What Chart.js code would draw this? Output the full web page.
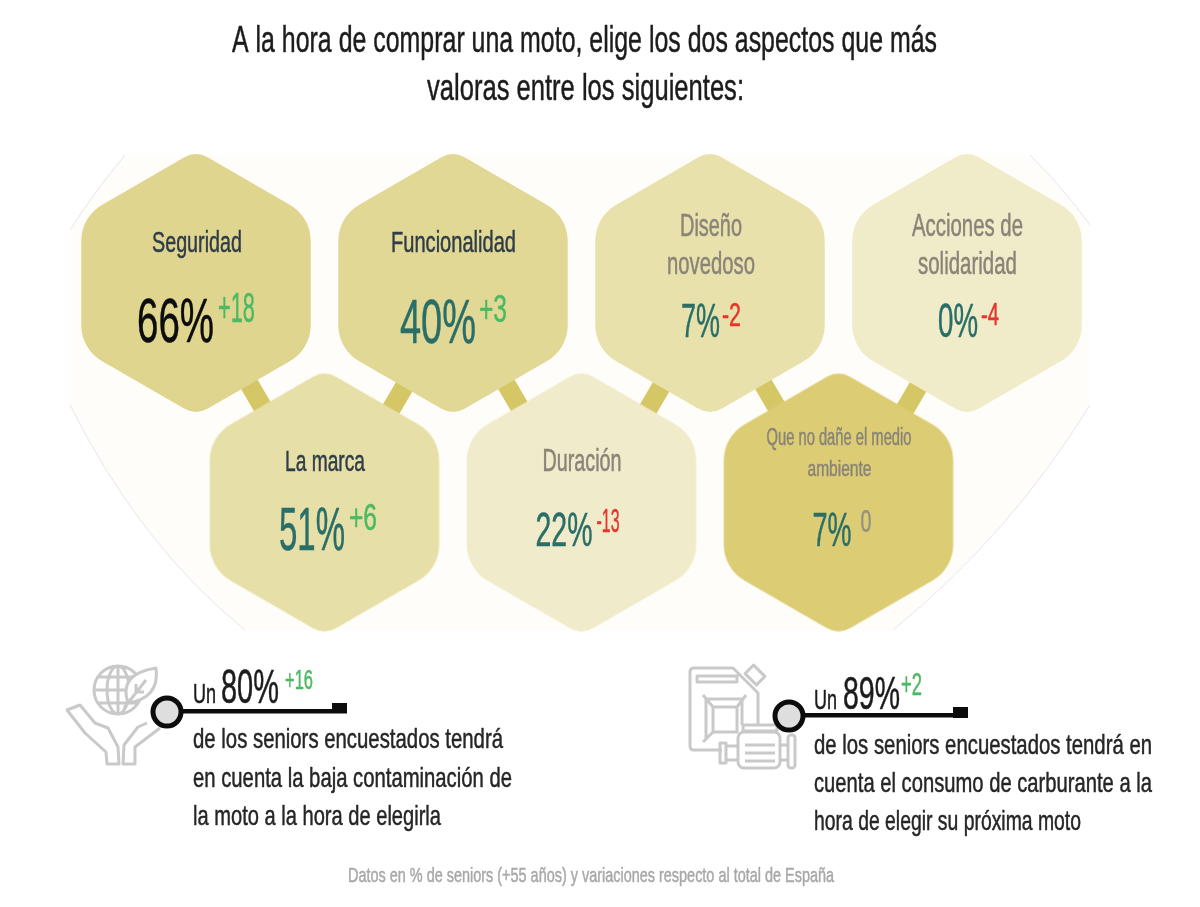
<!DOCTYPE html>
<html lang="es">
<head>
<meta charset="utf-8">
<title>Aspectos más valorados al comprar una moto</title>
<script src="https://cdn.jsdelivr.net/npm/chart.js@4/dist/chart.umd.min.js"></script>
<style>
    html, body { margin: 0; padding: 0; background: #fff; }
    canvas { display: block; }
</style>
</head>
<body>
<canvas id="hexChart" width="1200" height="907"></canvas>
<script>
const titleLines = [
    'A la hora de comprar una moto, elige los dos aspectos que más',
    'valoras entre los siguientes:'
];
const categories = [
    ['Seguridad'], ['Funcionalidad'], ['Diseño', 'novedoso'], ['Acciones de', 'solidaridad'],
    ['La marca'], ['Duración'], ['Que no dañe el medio', 'ambiente']
];
const percentValues = [66, 40, 7, 0, 51, 22, 7];
const changeValues = [18, 3, -2, -4, 6, -13, 0];

// hex grid: half-columns and rows, the links join a top hexagon to a bottom one
const hexCols = [0, 2, 4, 6, 1, 3, 5];
const hexRows = [0, 0, 0, 0, 1, 1, 1];
const linkPairs = [[0, 4], [1, 4], [1, 5], [2, 5], [2, 6], [3, 6]];

const statPercents = [80, 89];
const statChanges = [16, 2];
const footerText = 'Datos en % de seniors (+55 años) y variaciones respecto al total de España';

const FONT = '"Liberation Sans Narrow", "Liberation Sans", sans-serif';
const GREEN = '#4cb963';
const RED = '#e5352d';
const TEAL = '#2a6e68';
const GREY = '#8a8478';
const DARK = '#2f3d48';
const LINK = '#d6c766';

const hexColors = ['#dfd58f', '#e1d895', '#e8e1ac', '#f0ebc9', '#e7dfa8', '#f0ebca', '#dccd75'];
const labelColors = [DARK, DARK, GREY, GREY, DARK, GREY, GREY];
const percentColors = ['#0c0c0c', TEAL, TEAL, TEAL, TEAL, TEAL, TEAL];

// text boxes relative to the hexagon centre: left, right, baseline, height
const labelBoxes = [
    [[-44, 46, -31, 21]],
    [[-62, 63, -31, 21]],
    [[-30, 32, -47, 22], [-43, 45, -9, 22]],
    [[-55, 56, -47, 22], [-49, 50, -9, 22]],
    [[-39.5, 40.5, -32, 21]],
    [[-39, 40, -32, 22]],
    [[-72, 73, -58, 17], [-31, 33, -27, 16]]
];
const percentBoxes = [
    [-59, 18, 59, 45], [-53, 23, 60, 45], [-29, 10, 54, 34], [-29, 11, 54, 34],
    [-45.5, 20.5, 47, 44], [-46, 11, 43, 34], [-26, 13, 43, 34]
];
const changeBoxes = [
    [22, 59, 39, 30], [26, 54, 39, 28], [12, 31, 43, 24], [14, 32, 42, 22],
    [24.5, 52.5, 27, 27], [15, 38, 29, 24], [22, 33, 29, 22]
];

function fitText(ctx, text, left, right, baseline, height, color) {
    ctx.save();
    ctx.font = (height / 0.72) + 'px ' + FONT;
    ctx.textAlign = 'left';
    ctx.textBaseline = 'alphabetic';
    ctx.fillStyle = color;
    ctx.strokeStyle = color;
    ctx.lineWidth = 0.5;
    ctx.lineJoin = 'round';
    const sx = (right - left) / ctx.measureText(text).width;
    ctx.translate(left, baseline);
    ctx.scale(sx, 1);
    ctx.fillText(text, 0, 0);
    ctx.strokeText(text, 0, 0);
    ctx.restore();
}

function formatChange(value) {
    if (value > 0) return '+' + value;
    return String(value);
}

function changeColor(value) {
    if (value > 0) return GREEN;
    if (value < 0) return RED;
    return '#97917f';
}

function makeHexagon(color) {
    const width = 232, height = 268;
    const c = document.createElement('canvas');
    c.width = width;
    c.height = height;
    const g = c.getContext('2d');
    const cx = width / 2, cy = height / 2;
    const R = 132.5;
    const pts = [];
    for (let i = 0; i < 6; i++) {
        const a = -Math.PI / 2 + i * Math.PI / 3;
        pts.push([cx + R * Math.cos(a), cy + R * Math.sin(a)]);
    }
    g.beginPath();
    g.moveTo((pts[5][0] + pts[0][0]) / 2, (pts[5][1] + pts[0][1]) / 2);
    for (let i = 0; i < 6; i++) {
        const p = pts[i], n = pts[(i + 1) % 6];
        // top and bottom corners are tighter than the side ones
        g.arcTo(p[0], p[1], n[0], n[1], i % 3 === 0 ? 24 : 42);
    }
    g.closePath();
    g.fillStyle = color;
    g.fill();
    return c;
}

// the links do not run exactly from centre to centre
function linkPoints() {
    const points = [];
    linkPairs.forEach(pair => {
        const leaning = hexCols[pair[0]] < hexCols[pair[1]];
        const dx = leaning ? -6 / 128.5 : 9 / 128.5;
        const dy = leaning ? 0 : 5 / 219.5;
        pair.forEach(i => points.push({ x: hexCols[i] + dx, y: hexRows[i] + dy }));
        points.push({ x: hexCols[pair[1]], y: null });
    });
    return points;
}

const backdropPlugin = {
    id: 'backdrop',
    beforeDraw(chart) {
        const ctx = chart.ctx;
        ctx.save();
        ctx.beginPath();
        ctx.moveTo(125, 155);
        ctx.quadraticCurveTo(92, 195, 70, 230);
        ctx.lineTo(70, 405);
        ctx.quadraticCurveTo(140, 545, 245, 630);
        ctx.lineTo(893, 630);
        ctx.quadraticCurveTo(1010, 535, 1090, 405);
        ctx.lineTo(1090, 225);
        ctx.quadraticCurveTo(1065, 190, 1030, 155);
        ctx.closePath();
        ctx.fillStyle = '#fffdf9';
        ctx.fill();

        ctx.strokeStyle = '#e4e6ea';
        ctx.lineWidth = 1;
        ctx.beginPath();
        ctx.moveTo(125, 155);
        ctx.quadraticCurveTo(92, 195, 70, 230);
        ctx.moveTo(70, 405);
        ctx.quadraticCurveTo(140, 545, 245, 630);
        ctx.moveTo(893, 630);
        ctx.quadraticCurveTo(1010, 535, 1090, 405);
        ctx.moveTo(1090, 225);
        ctx.quadraticCurveTo(1065, 190, 1030, 155);
        ctx.stroke();
        ctx.restore();
    }
};

function drawGlobeIcon(ctx) {
    ctx.beginPath();
    ctx.arc(118, 690, 24, 0, Math.PI * 2);
    ctx.moveTo(118, 666);
    ctx.lineTo(118, 714);
    ctx.moveTo(129, 690);
    ctx.ellipse(118, 690, 11, 24, 0, 0, Math.PI * 2);
    ctx.moveTo(94, 690);
    ctx.lineTo(142, 690);
    ctx.moveTo(98, 677);
    ctx.lineTo(138, 677);
    ctx.moveTo(98, 703);
    ctx.lineTo(138, 703);
    ctx.stroke();

    ctx.beginPath();
    ctx.moveTo(128, 703);
    ctx.quadraticCurveTo(118, 674, 156, 668);
    ctx.quadraticCurveTo(160, 698, 128, 703);
    ctx.closePath();
    ctx.fillStyle = '#fff';
    ctx.fill();
    ctx.stroke();
    ctx.beginPath();
    ctx.moveTo(124, 708);
    ctx.lineTo(146, 680);
    ctx.moveTo(136, 692);
    ctx.lineTo(136, 684);
    ctx.moveTo(136, 692);
    ctx.lineTo(144, 692);
    ctx.stroke();

    ctx.beginPath();
    ctx.moveTo(67, 710);
    ctx.lineTo(80, 705);
    ctx.lineTo(95, 723);
    ctx.lineTo(108, 728);
    ctx.lineTo(118, 747);
    ctx.lineTo(119, 764);
    ctx.lineTo(107, 764);
    ctx.lineTo(106, 752);
    ctx.lineTo(85, 733);
    ctx.closePath();
    ctx.moveTo(160, 728);
    ctx.lineTo(135, 747);
    ctx.lineTo(135, 764);
    ctx.lineTo(123, 764);
    ctx.lineTo(124, 745);
    ctx.lineTo(138, 727);
    ctx.lineTo(147, 723);
    ctx.stroke();
}

function drawFuelIcon(ctx) {
    ctx.beginPath();
    ctx.moveTo(722, 750);
    ctx.lineTo(694, 750);
    ctx.quadraticCurveTo(690, 750, 690, 746);
    ctx.lineTo(690, 672);
    ctx.quadraticCurveTo(690, 668, 694, 668);
    ctx.lineTo(733, 668);
    ctx.lineTo(758, 693);
    ctx.lineTo(758, 725);
    ctx.rect(697, 676, 40, 6);
    ctx.rect(713, 707, 24, 25);
    ctx.moveTo(713, 707);
    ctx.lineTo(703, 695);
    ctx.moveTo(737, 707);
    ctx.lineTo(746, 695);
    ctx.moveTo(713, 732);
    ctx.lineTo(703, 742);
    ctx.moveTo(706, 699);
    ctx.lineTo(706, 738);
    ctx.moveTo(706, 699);
    ctx.lineTo(744, 699);
    ctx.moveTo(742, 700);
    ctx.lineTo(742, 725);
    ctx.stroke();

    // cap
    ctx.save();
    ctx.translate(755, 675);
    ctx.rotate(Math.PI / 4);
    ctx.strokeRect(-8, -6, 16, 12);
    ctx.restore();

    // engine
    ctx.beginPath();
    ctx.roundRect(738, 732, 42, 36, 6);
    ctx.rect(743, 725, 34, 6);
    ctx.moveTo(745, 745);
    ctx.lineTo(775, 745);
    ctx.moveTo(745, 753);
    ctx.lineTo(775, 753);
    ctx.moveTo(745, 761);
    ctx.lineTo(775, 761);
    ctx.rect(720, 743, 6, 20);
    ctx.rect(726, 746, 12, 14);
    ctx.moveTo(780, 745);
    ctx.lineTo(788, 745);
    ctx.moveTo(780, 760);
    ctx.lineTo(788, 760);
    ctx.roundRect(788, 735, 7, 33, 3);
    ctx.stroke();
}

function drawCallout(ctx, cx, cy, endX, blockTop, blockH) {
    ctx.fillStyle = '#0c0c0c';
    ctx.fillRect(cx, cy - 3, endX - cx, 4.5);
    ctx.fillRect(endX - 15, blockTop, 15, blockH);
    ctx.beginPath();
    ctx.arc(cx, cy, 14, 0, Math.PI * 2);
    ctx.fillStyle = '#dedede';
    ctx.fill();
    ctx.lineWidth = 5;
    ctx.strokeStyle = '#0c0c0c';
    ctx.stroke();
}

const textPlugin = {
    id: 'infographicText',
    afterDatasetsDraw(chart) {
        const ctx = chart.ctx;
        const points = chart.getDatasetMeta(0).data;

        fitText(ctx, titleLines[0], 232, 937, 52, 27, '#1c1c1c');
        fitText(ctx, titleLines[1], 427, 744, 100, 27, '#1c1c1c');

        categories.forEach((lines, i) => {
            const cx = points[i].x, cy = points[i].y;
            lines.forEach((line, j) => {
                const b = labelBoxes[i][j];
                fitText(ctx, line, cx + b[0], cx + b[1], cy + b[2], b[3], labelColors[i]);
            });
            const p = percentBoxes[i];
            fitText(ctx, percentValues[i] + '%', cx + p[0], cx + p[1], cy + p[2], p[3], percentColors[i]);
            const c = changeBoxes[i];
            fitText(ctx, formatChange(changeValues[i]), cx + c[0], cx + c[1], cy + c[2], c[3], changeColor(changeValues[i]));
        });

        ctx.save();
        ctx.strokeStyle = '#c9c9c9';
        ctx.lineWidth = 3;
        ctx.lineJoin = 'round';
        drawGlobeIcon(ctx);
        drawFuelIcon(ctx);
        ctx.restore();

        drawCallout(ctx, 167, 712, 347, 703, 10);
        drawCallout(ctx, 789, 716, 968, 707, 11);

        fitText(ctx, 'Un', 193, 216, 703, 20, '#1c1c1c');
        fitText(ctx, statPercents[0] + '%', 221, 279, 703, 34, '#1c1c1c');
        fitText(ctx, formatChange(statChanges[0]), 285, 313, 689, 20, GREEN);
        fitText(ctx, 'de los seniors encuestados tendrá', 193, 503, 748, 20, '#262626');
        fitText(ctx, 'en cuenta la baja contaminación de', 193, 512, 787, 20, '#262626');
        fitText(ctx, 'la moto a la hora de elegirla', 193, 441, 825, 20, '#262626');

        fitText(ctx, 'Un', 814, 837, 709, 20, '#1c1c1c');
        fitText(ctx, statPercents[1] + '%', 843, 900, 709, 33, '#1c1c1c');
        fitText(ctx, formatChange(statChanges[1]), 901, 922, 695, 22, GREEN);
        fitText(ctx, 'de los seniors encuestados tendrá en', 814, 1152, 754, 20, '#262626');
        fitText(ctx, 'cuenta el consumo de carburante a la', 814, 1152, 792, 20, '#262626');
        fitText(ctx, 'hora de elegir su próxima moto', 814, 1081, 830, 20, '#262626');

        fitText(ctx, footerText, 348, 834, 882, 15, '#a8a8a8');
    }
};

const hexCtx = document.getElementById('hexChart').getContext('2d');
const hexChart = new Chart(hexCtx, {
    type: 'scatter',
    data: {
        datasets: [{
            label: 'Seniors (%)',
            data: percentValues.map((value, i) => ({ x: hexCols[i], y: hexRows[i], value: value })),
            pointStyle: hexColors.map(makeHexagon),
            pointRadius: 100,
            clip: false,
            order: 1
        }, {
            type: 'line',
            label: 'Enlaces',
            data: linkPoints(),
            parsing: false,
            normalized: false,
            borderColor: LINK,
            borderWidth: 19,
            pointRadius: 0,
            tension: 0,
            spanGaps: false,
            order: 2
        }]
    },
    options: {
        responsive: false,
        animation: false,
        events: [],
        layout: { padding: 0, autoPadding: false },
        scales: {
            x: { type: 'linear', display: false, min: -196 / 128.5, max: (1200 - 196) / 128.5 },
            y: { type: 'linear', display: false, reverse: true, min: -283 / 219.5, max: (907 - 283) / 219.5 }
        },
        plugins: {
            legend: { display: false },
            tooltip: { enabled: false }
        }
    },
    plugins: [backdropPlugin, textPlugin]
});
</script>
</body>
</html>
